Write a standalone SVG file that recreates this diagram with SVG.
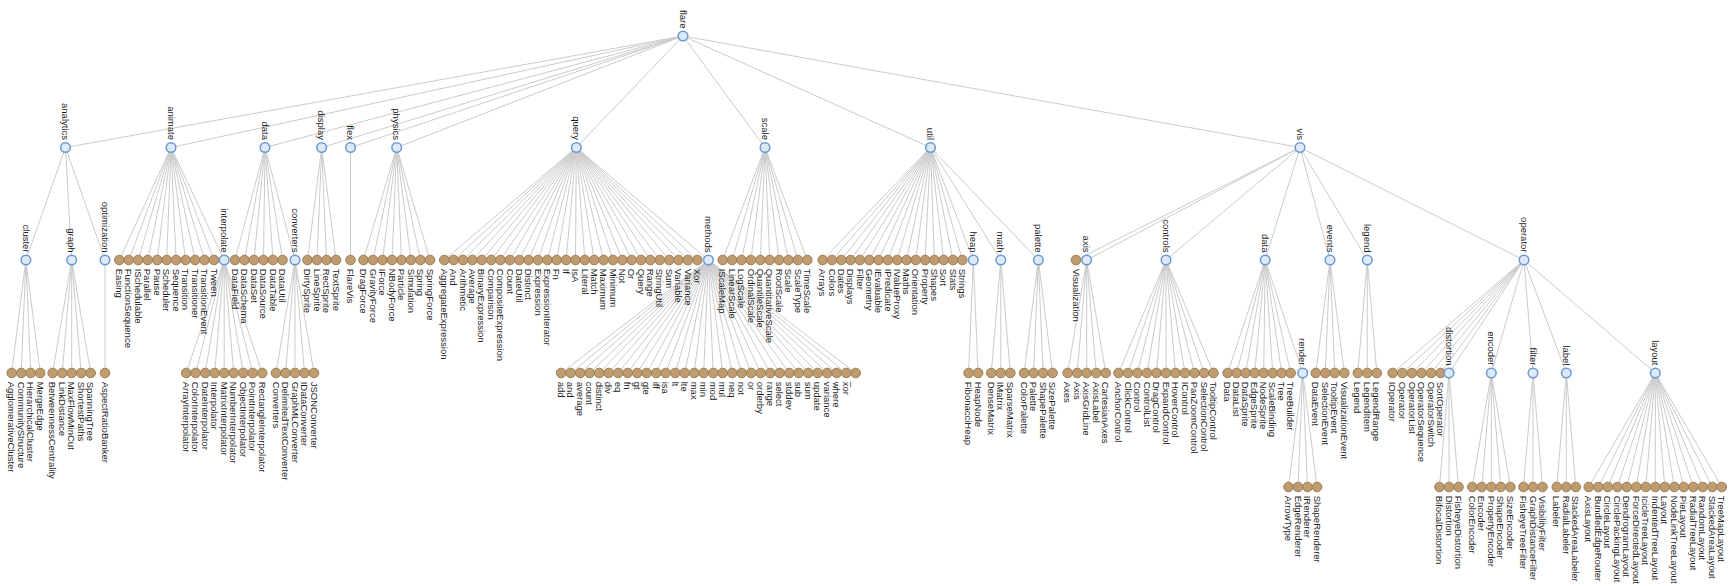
<svg xmlns="http://www.w3.org/2000/svg" width="1733" height="586" viewBox="0 0 1733 586">
<style>
.links line{stroke:#cbcbcb;stroke-width:1}
.leaf circle{fill:#bf9c70;stroke:#9f7f55;stroke-width:1}
.inner circle{fill:#dde9f7;stroke:#6a9ad2;stroke-width:1.5}
text{font-family:"Liberation Sans",Arial,sans-serif;font-size:9.5px;fill:#1e1e1e}
.inner text{text-anchor:end}
</style>
<rect width="1733" height="586" fill="#fff"/>
<g id="links" class="links">
<line x1="683" y1="36" x2="65.5" y2="147.5"/><line x1="683" y1="36" x2="171" y2="147.5"/><line x1="683" y1="36" x2="265" y2="147.5"/><line x1="683" y1="36" x2="321.7" y2="147.5"/><line x1="683" y1="36" x2="350.5" y2="147.5"/><line x1="683" y1="36" x2="396.7" y2="147.5"/><line x1="683" y1="36" x2="576.3" y2="147.5"/><line x1="683" y1="36" x2="765" y2="147.5"/><line x1="683" y1="36" x2="930.5" y2="147.5"/><line x1="683" y1="36" x2="1300" y2="147.5"/>
<line x1="65.5" y1="147.5" x2="25.9" y2="260"/><line x1="65.5" y1="147.5" x2="71.7" y2="260"/><line x1="65.5" y1="147.5" x2="105" y2="260"/>
<line x1="25.9" y1="260" x2="11.7" y2="373"/><line x1="25.9" y1="260" x2="21.2" y2="373"/><line x1="25.9" y1="260" x2="30.7" y2="373"/><line x1="25.9" y1="260" x2="40.2" y2="373"/>
<line x1="71.7" y1="260" x2="52.7" y2="373"/><line x1="71.7" y1="260" x2="62.2" y2="373"/><line x1="71.7" y1="260" x2="71.7" y2="373"/><line x1="71.7" y1="260" x2="81.2" y2="373"/><line x1="71.7" y1="260" x2="90.7" y2="373"/>
<line x1="105" y1="260" x2="105" y2="373"/>
<line x1="171" y1="147.5" x2="119.3" y2="260"/><line x1="171" y1="147.5" x2="128.8" y2="260"/><line x1="171" y1="147.5" x2="138.2" y2="260"/><line x1="171" y1="147.5" x2="147.7" y2="260"/><line x1="171" y1="147.5" x2="157.2" y2="260"/><line x1="171" y1="147.5" x2="166.7" y2="260"/><line x1="171" y1="147.5" x2="176.1" y2="260"/><line x1="171" y1="147.5" x2="185.6" y2="260"/><line x1="171" y1="147.5" x2="195.1" y2="260"/><line x1="171" y1="147.5" x2="204.5" y2="260"/><line x1="171" y1="147.5" x2="214" y2="260"/><line x1="171" y1="147.5" x2="224.2" y2="260"/>
<line x1="224.2" y1="260" x2="186.2" y2="373"/><line x1="224.2" y1="260" x2="195.7" y2="373"/><line x1="224.2" y1="260" x2="205.2" y2="373"/><line x1="224.2" y1="260" x2="214.7" y2="373"/><line x1="224.2" y1="260" x2="224.2" y2="373"/><line x1="224.2" y1="260" x2="233.7" y2="373"/><line x1="224.2" y1="260" x2="243.2" y2="373"/><line x1="224.2" y1="260" x2="252.7" y2="373"/><line x1="224.2" y1="260" x2="262.2" y2="373"/>
<line x1="265" y1="147.5" x2="235" y2="260"/><line x1="265" y1="147.5" x2="244.5" y2="260"/><line x1="265" y1="147.5" x2="254" y2="260"/><line x1="265" y1="147.5" x2="263.5" y2="260"/><line x1="265" y1="147.5" x2="273" y2="260"/><line x1="265" y1="147.5" x2="282.5" y2="260"/><line x1="265" y1="147.5" x2="295" y2="260"/>
<line x1="295" y1="260" x2="276" y2="373"/><line x1="295" y1="260" x2="285.5" y2="373"/><line x1="295" y1="260" x2="295" y2="373"/><line x1="295" y1="260" x2="304.5" y2="373"/><line x1="295" y1="260" x2="314" y2="373"/>
<line x1="321.7" y1="147.5" x2="307.5" y2="260"/><line x1="321.7" y1="147.5" x2="317" y2="260"/><line x1="321.7" y1="147.5" x2="326.5" y2="260"/><line x1="321.7" y1="147.5" x2="336" y2="260"/>
<line x1="350.5" y1="147.5" x2="350.5" y2="260"/>
<line x1="396.7" y1="147.5" x2="363.5" y2="260"/><line x1="396.7" y1="147.5" x2="373" y2="260"/><line x1="396.7" y1="147.5" x2="382.5" y2="260"/><line x1="396.7" y1="147.5" x2="392" y2="260"/><line x1="396.7" y1="147.5" x2="401.5" y2="260"/><line x1="396.7" y1="147.5" x2="411" y2="260"/><line x1="396.7" y1="147.5" x2="420.5" y2="260"/><line x1="396.7" y1="147.5" x2="430" y2="260"/>
<line x1="576.3" y1="147.5" x2="444.3" y2="260"/><line x1="576.3" y1="147.5" x2="453.7" y2="260"/><line x1="576.3" y1="147.5" x2="463" y2="260"/><line x1="576.3" y1="147.5" x2="472.4" y2="260"/><line x1="576.3" y1="147.5" x2="481.8" y2="260"/><line x1="576.3" y1="147.5" x2="491.2" y2="260"/><line x1="576.3" y1="147.5" x2="500.5" y2="260"/><line x1="576.3" y1="147.5" x2="509.9" y2="260"/><line x1="576.3" y1="147.5" x2="519.3" y2="260"/><line x1="576.3" y1="147.5" x2="528.6" y2="260"/><line x1="576.3" y1="147.5" x2="538" y2="260"/><line x1="576.3" y1="147.5" x2="547.4" y2="260"/><line x1="576.3" y1="147.5" x2="556.7" y2="260"/><line x1="576.3" y1="147.5" x2="566.1" y2="260"/><line x1="576.3" y1="147.5" x2="575.5" y2="260"/><line x1="576.3" y1="147.5" x2="584.9" y2="260"/><line x1="576.3" y1="147.5" x2="594.2" y2="260"/><line x1="576.3" y1="147.5" x2="603.6" y2="260"/><line x1="576.3" y1="147.5" x2="613" y2="260"/><line x1="576.3" y1="147.5" x2="622.3" y2="260"/><line x1="576.3" y1="147.5" x2="631.7" y2="260"/><line x1="576.3" y1="147.5" x2="641.1" y2="260"/><line x1="576.3" y1="147.5" x2="650.4" y2="260"/><line x1="576.3" y1="147.5" x2="659.8" y2="260"/><line x1="576.3" y1="147.5" x2="669.2" y2="260"/><line x1="576.3" y1="147.5" x2="678.6" y2="260"/><line x1="576.3" y1="147.5" x2="687.9" y2="260"/><line x1="576.3" y1="147.5" x2="697.3" y2="260"/><line x1="576.3" y1="147.5" x2="708.4" y2="260"/>
<line x1="708.4" y1="260" x2="561.2" y2="373"/><line x1="708.4" y1="260" x2="570.7" y2="373"/><line x1="708.4" y1="260" x2="580.2" y2="373"/><line x1="708.4" y1="260" x2="589.7" y2="373"/><line x1="708.4" y1="260" x2="599.2" y2="373"/><line x1="708.4" y1="260" x2="608.7" y2="373"/><line x1="708.4" y1="260" x2="618.2" y2="373"/><line x1="708.4" y1="260" x2="627.7" y2="373"/><line x1="708.4" y1="260" x2="637.2" y2="373"/><line x1="708.4" y1="260" x2="646.7" y2="373"/><line x1="708.4" y1="260" x2="656.2" y2="373"/><line x1="708.4" y1="260" x2="665.7" y2="373"/><line x1="708.4" y1="260" x2="675.2" y2="373"/><line x1="708.4" y1="260" x2="684.7" y2="373"/><line x1="708.4" y1="260" x2="694.2" y2="373"/><line x1="708.4" y1="260" x2="703.7" y2="373"/><line x1="708.4" y1="260" x2="713.2" y2="373"/><line x1="708.4" y1="260" x2="722.7" y2="373"/><line x1="708.4" y1="260" x2="732.2" y2="373"/><line x1="708.4" y1="260" x2="741.7" y2="373"/><line x1="708.4" y1="260" x2="751.2" y2="373"/><line x1="708.4" y1="260" x2="760.7" y2="373"/><line x1="708.4" y1="260" x2="770.2" y2="373"/><line x1="708.4" y1="260" x2="779.7" y2="373"/><line x1="708.4" y1="260" x2="789.2" y2="373"/><line x1="708.4" y1="260" x2="798.7" y2="373"/><line x1="708.4" y1="260" x2="808.2" y2="373"/><line x1="708.4" y1="260" x2="817.7" y2="373"/><line x1="708.4" y1="260" x2="827.2" y2="373"/><line x1="708.4" y1="260" x2="836.7" y2="373"/><line x1="708.4" y1="260" x2="846.2" y2="373"/><line x1="708.4" y1="260" x2="855.7" y2="373"/>
<line x1="765" y1="147.5" x2="722.7" y2="260"/><line x1="765" y1="147.5" x2="732.1" y2="260"/><line x1="765" y1="147.5" x2="741.5" y2="260"/><line x1="765" y1="147.5" x2="750.9" y2="260"/><line x1="765" y1="147.5" x2="760.3" y2="260"/><line x1="765" y1="147.5" x2="769.7" y2="260"/><line x1="765" y1="147.5" x2="779.1" y2="260"/><line x1="765" y1="147.5" x2="788.5" y2="260"/><line x1="765" y1="147.5" x2="797.9" y2="260"/><line x1="765" y1="147.5" x2="807.3" y2="260"/>
<line x1="930.5" y1="147.5" x2="822.7" y2="260"/><line x1="930.5" y1="147.5" x2="832" y2="260"/><line x1="930.5" y1="147.5" x2="841.3" y2="260"/><line x1="930.5" y1="147.5" x2="850.6" y2="260"/><line x1="930.5" y1="147.5" x2="859.9" y2="260"/><line x1="930.5" y1="147.5" x2="869.3" y2="260"/><line x1="930.5" y1="147.5" x2="878.6" y2="260"/><line x1="930.5" y1="147.5" x2="887.9" y2="260"/><line x1="930.5" y1="147.5" x2="897.2" y2="260"/><line x1="930.5" y1="147.5" x2="906.5" y2="260"/><line x1="930.5" y1="147.5" x2="915.8" y2="260"/><line x1="930.5" y1="147.5" x2="925.1" y2="260"/><line x1="930.5" y1="147.5" x2="934.4" y2="260"/><line x1="930.5" y1="147.5" x2="943.7" y2="260"/><line x1="930.5" y1="147.5" x2="953" y2="260"/><line x1="930.5" y1="147.5" x2="962.3" y2="260"/><line x1="930.5" y1="147.5" x2="973.3" y2="260"/><line x1="930.5" y1="147.5" x2="1000.8" y2="260"/><line x1="930.5" y1="147.5" x2="1038.3" y2="260"/>
<line x1="973.3" y1="260" x2="968.6" y2="373"/><line x1="973.3" y1="260" x2="978.1" y2="373"/>
<line x1="1000.8" y1="260" x2="991.3" y2="373"/><line x1="1000.8" y1="260" x2="1000.8" y2="373"/><line x1="1000.8" y1="260" x2="1010.3" y2="373"/>
<line x1="1038.3" y1="260" x2="1024.1" y2="373"/><line x1="1038.3" y1="260" x2="1033.6" y2="373"/><line x1="1038.3" y1="260" x2="1043.1" y2="373"/><line x1="1038.3" y1="260" x2="1052.6" y2="373"/>
<line x1="1300" y1="147.5" x2="1076" y2="260"/><line x1="1300" y1="147.5" x2="1086.7" y2="260"/><line x1="1300" y1="147.5" x2="1166" y2="260"/><line x1="1300" y1="147.5" x2="1265.2" y2="260"/><line x1="1300" y1="147.5" x2="1330" y2="260"/><line x1="1300" y1="147.5" x2="1367.3" y2="260"/><line x1="1300" y1="147.5" x2="1524" y2="260"/>
<line x1="1086.7" y1="260" x2="1067.7" y2="373"/><line x1="1086.7" y1="260" x2="1077.2" y2="373"/><line x1="1086.7" y1="260" x2="1086.7" y2="373"/><line x1="1086.7" y1="260" x2="1096.2" y2="373"/><line x1="1086.7" y1="260" x2="1105.7" y2="373"/>
<line x1="1166" y1="260" x2="1118.5" y2="373"/><line x1="1166" y1="260" x2="1128" y2="373"/><line x1="1166" y1="260" x2="1137.5" y2="373"/><line x1="1166" y1="260" x2="1147" y2="373"/><line x1="1166" y1="260" x2="1156.5" y2="373"/><line x1="1166" y1="260" x2="1166" y2="373"/><line x1="1166" y1="260" x2="1175.5" y2="373"/><line x1="1166" y1="260" x2="1185" y2="373"/><line x1="1166" y1="260" x2="1194.5" y2="373"/><line x1="1166" y1="260" x2="1204" y2="373"/><line x1="1166" y1="260" x2="1213.5" y2="373"/>
<line x1="1265.2" y1="260" x2="1227.7" y2="373"/><line x1="1265.2" y1="260" x2="1236.7" y2="373"/><line x1="1265.2" y1="260" x2="1245.7" y2="373"/><line x1="1265.2" y1="260" x2="1254.7" y2="373"/><line x1="1265.2" y1="260" x2="1263.7" y2="373"/><line x1="1265.2" y1="260" x2="1272.7" y2="373"/><line x1="1265.2" y1="260" x2="1281.7" y2="373"/><line x1="1265.2" y1="260" x2="1290.7" y2="373"/><line x1="1265.2" y1="260" x2="1302.7" y2="373"/>
<line x1="1302.7" y1="373" x2="1288.5" y2="487"/><line x1="1302.7" y1="373" x2="1298" y2="487"/><line x1="1302.7" y1="373" x2="1307.5" y2="487"/><line x1="1302.7" y1="373" x2="1317" y2="487"/>
<line x1="1330" y1="260" x2="1315.8" y2="373"/><line x1="1330" y1="260" x2="1325.3" y2="373"/><line x1="1330" y1="260" x2="1334.8" y2="373"/><line x1="1330" y1="260" x2="1344.3" y2="373"/>
<line x1="1367.3" y1="260" x2="1357.8" y2="373"/><line x1="1367.3" y1="260" x2="1367.3" y2="373"/><line x1="1367.3" y1="260" x2="1376.8" y2="373"/>
<line x1="1524" y1="260" x2="1392.7" y2="373"/><line x1="1524" y1="260" x2="1402.3" y2="373"/><line x1="1524" y1="260" x2="1411.9" y2="373"/><line x1="1524" y1="260" x2="1421.5" y2="373"/><line x1="1524" y1="260" x2="1431.1" y2="373"/><line x1="1524" y1="260" x2="1440.7" y2="373"/><line x1="1524" y1="260" x2="1449" y2="373"/><line x1="1524" y1="260" x2="1491.3" y2="373"/><line x1="1524" y1="260" x2="1533" y2="373"/><line x1="1524" y1="260" x2="1566.3" y2="373"/><line x1="1524" y1="260" x2="1655.3" y2="373"/>
<line x1="1449" y1="373" x2="1439.5" y2="487"/><line x1="1449" y1="373" x2="1449" y2="487"/><line x1="1449" y1="373" x2="1458.5" y2="487"/>
<line x1="1491.3" y1="373" x2="1472.3" y2="487"/><line x1="1491.3" y1="373" x2="1481.8" y2="487"/><line x1="1491.3" y1="373" x2="1491.3" y2="487"/><line x1="1491.3" y1="373" x2="1500.8" y2="487"/><line x1="1491.3" y1="373" x2="1510.3" y2="487"/>
<line x1="1533" y1="373" x2="1523.5" y2="487"/><line x1="1533" y1="373" x2="1533" y2="487"/><line x1="1533" y1="373" x2="1542.5" y2="487"/>
<line x1="1566.3" y1="373" x2="1556.8" y2="487"/><line x1="1566.3" y1="373" x2="1566.3" y2="487"/><line x1="1566.3" y1="373" x2="1575.8" y2="487"/>
<line x1="1655.3" y1="373" x2="1588.8" y2="487"/><line x1="1655.3" y1="373" x2="1598.3" y2="487"/><line x1="1655.3" y1="373" x2="1607.8" y2="487"/><line x1="1655.3" y1="373" x2="1617.3" y2="487"/><line x1="1655.3" y1="373" x2="1626.8" y2="487"/><line x1="1655.3" y1="373" x2="1636.3" y2="487"/><line x1="1655.3" y1="373" x2="1645.8" y2="487"/><line x1="1655.3" y1="373" x2="1655.3" y2="487"/><line x1="1655.3" y1="373" x2="1664.8" y2="487"/><line x1="1655.3" y1="373" x2="1674.3" y2="487"/><line x1="1655.3" y1="373" x2="1683.8" y2="487"/><line x1="1655.3" y1="373" x2="1693.3" y2="487"/><line x1="1655.3" y1="373" x2="1702.8" y2="487"/><line x1="1655.3" y1="373" x2="1712.3" y2="487"/><line x1="1655.3" y1="373" x2="1721.8" y2="487"/>
</g>
<g id="nodes">
<g id="n-flare" class="inner" transform="translate(683,36)"><circle r="4.8"/><text transform="rotate(90)" x="-7.5" dy=".35em">flare</text></g>
<g id="n-analytics" class="inner" transform="translate(65.5,147.5)"><circle r="4.8"/><text transform="rotate(90)" x="-7.5" dy=".35em">analytics</text></g>
<g id="n-animate" class="inner" transform="translate(171,147.5)"><circle r="4.8"/><text transform="rotate(90)" x="-7.5" dy=".35em">animate</text></g>
<g id="n-data" class="inner" transform="translate(265,147.5)"><circle r="4.8"/><text transform="rotate(90)" x="-7.5" dy=".35em">data</text></g>
<g id="n-display" class="inner" transform="translate(321.7,147.5)"><circle r="4.8"/><text transform="rotate(90)" x="-7.5" dy=".35em">display</text></g>
<g id="n-flex" class="inner" transform="translate(350.5,147.5)"><circle r="4.8"/><text transform="rotate(90)" x="-7.5" dy=".35em">flex</text></g>
<g id="n-physics" class="inner" transform="translate(396.7,147.5)"><circle r="4.8"/><text transform="rotate(90)" x="-7.5" dy=".35em">physics</text></g>
<g id="n-query" class="inner" transform="translate(576.3,147.5)"><circle r="4.8"/><text transform="rotate(90)" x="-7.5" dy=".35em">query</text></g>
<g id="n-scale" class="inner" transform="translate(765,147.5)"><circle r="4.8"/><text transform="rotate(90)" x="-7.5" dy=".35em">scale</text></g>
<g id="n-util" class="inner" transform="translate(930.5,147.5)"><circle r="4.8"/><text transform="rotate(90)" x="-7.5" dy=".35em">util</text></g>
<g id="n-vis" class="inner" transform="translate(1300,147.5)"><circle r="4.8"/><text transform="rotate(90)" x="-7.5" dy=".35em">vis</text></g>

<g id="n-cluster" class="inner" transform="translate(25.9,260)"><circle r="4.8"/><text transform="rotate(90)" x="-7.5" dy=".35em">cluster</text></g>
<g id="n-graph" class="inner" transform="translate(71.7,260)"><circle r="4.8"/><text transform="rotate(90)" x="-7.5" dy=".35em">graph</text></g>
<g id="n-optimization" class="inner" transform="translate(105,260)"><circle r="4.8"/><text transform="rotate(90)" x="-7.5" dy=".35em">optimization</text></g>
<g id="n-AgglomerativeCluster" class="leaf" transform="translate(11.7,373)"><circle r="4.8"/><text transform="rotate(90)" x="8.7" dy=".35em">AgglomerativeCluster</text></g>
<g id="n-CommunityStructure" class="leaf" transform="translate(21.2,373)"><circle r="4.8"/><text transform="rotate(90)" x="8.7" dy=".35em">CommunityStructure</text></g>
<g id="n-HierarchicalCluster" class="leaf" transform="translate(30.7,373)"><circle r="4.8"/><text transform="rotate(90)" x="8.7" dy=".35em">HierarchicalCluster</text></g>
<g id="n-MergeEdge" class="leaf" transform="translate(40.2,373)"><circle r="4.8"/><text transform="rotate(90)" x="8.7" dy=".35em">MergeEdge</text></g>
<g id="n-BetweennessCentrality" class="leaf" transform="translate(52.7,373)"><circle r="4.8"/><text transform="rotate(90)" x="8.7" dy=".35em">BetweennessCentrality</text></g>
<g id="n-LinkDistance" class="leaf" transform="translate(62.2,373)"><circle r="4.8"/><text transform="rotate(90)" x="8.7" dy=".35em">LinkDistance</text></g>
<g id="n-MaxFlowMinCut" class="leaf" transform="translate(71.7,373)"><circle r="4.8"/><text transform="rotate(90)" x="8.7" dy=".35em">MaxFlowMinCut</text></g>
<g id="n-ShortestPaths" class="leaf" transform="translate(81.2,373)"><circle r="4.8"/><text transform="rotate(90)" x="8.7" dy=".35em">ShortestPaths</text></g>
<g id="n-SpanningTree" class="leaf" transform="translate(90.7,373)"><circle r="4.8"/><text transform="rotate(90)" x="8.7" dy=".35em">SpanningTree</text></g>
<g id="n-AspectRatioBanker" class="leaf" transform="translate(105,373)"><circle r="4.8"/><text transform="rotate(90)" x="8.7" dy=".35em">AspectRatioBanker</text></g>

<g id="n-Easing" class="leaf" transform="translate(119.3,260)"><circle r="4.8"/><text transform="rotate(90)" x="8.7" dy=".35em">Easing</text></g>
<g id="n-FunctionSequence" class="leaf" transform="translate(128.8,260)"><circle r="4.8"/><text transform="rotate(90)" x="8.7" dy=".35em">FunctionSequence</text></g>
<g id="n-ISchedulable" class="leaf" transform="translate(138.2,260)"><circle r="4.8"/><text transform="rotate(90)" x="8.7" dy=".35em">ISchedulable</text></g>
<g id="n-Parallel" class="leaf" transform="translate(147.7,260)"><circle r="4.8"/><text transform="rotate(90)" x="8.7" dy=".35em">Parallel</text></g>
<g id="n-Pause" class="leaf" transform="translate(157.2,260)"><circle r="4.8"/><text transform="rotate(90)" x="8.7" dy=".35em">Pause</text></g>
<g id="n-Scheduler" class="leaf" transform="translate(166.7,260)"><circle r="4.8"/><text transform="rotate(90)" x="8.7" dy=".35em">Scheduler</text></g>
<g id="n-Sequence" class="leaf" transform="translate(176.1,260)"><circle r="4.8"/><text transform="rotate(90)" x="8.7" dy=".35em">Sequence</text></g>
<g id="n-Transition" class="leaf" transform="translate(185.6,260)"><circle r="4.8"/><text transform="rotate(90)" x="8.7" dy=".35em">Transition</text></g>
<g id="n-Transitioner" class="leaf" transform="translate(195.1,260)"><circle r="4.8"/><text transform="rotate(90)" x="8.7" dy=".35em">Transitioner</text></g>
<g id="n-TransitionEvent" class="leaf" transform="translate(204.5,260)"><circle r="4.8"/><text transform="rotate(90)" x="8.7" dy=".35em">TransitionEvent</text></g>
<g id="n-Tween" class="leaf" transform="translate(214,260)"><circle r="4.8"/><text transform="rotate(90)" x="8.7" dy=".35em">Tween</text></g>
<g id="n-interpolate" class="inner" transform="translate(224.2,260)"><circle r="4.8"/><text transform="rotate(90)" x="-7.5" dy=".35em">interpolate</text></g>
<g id="n-ArrayInterpolator" class="leaf" transform="translate(186.2,373)"><circle r="4.8"/><text transform="rotate(90)" x="8.7" dy=".35em">ArrayInterpolator</text></g>
<g id="n-ColorInterpolator" class="leaf" transform="translate(195.7,373)"><circle r="4.8"/><text transform="rotate(90)" x="8.7" dy=".35em">ColorInterpolator</text></g>
<g id="n-DateInterpolator" class="leaf" transform="translate(205.2,373)"><circle r="4.8"/><text transform="rotate(90)" x="8.7" dy=".35em">DateInterpolator</text></g>
<g id="n-Interpolator" class="leaf" transform="translate(214.7,373)"><circle r="4.8"/><text transform="rotate(90)" x="8.7" dy=".35em">Interpolator</text></g>
<g id="n-MatrixInterpolator" class="leaf" transform="translate(224.2,373)"><circle r="4.8"/><text transform="rotate(90)" x="8.7" dy=".35em">MatrixInterpolator</text></g>
<g id="n-NumberInterpolator" class="leaf" transform="translate(233.7,373)"><circle r="4.8"/><text transform="rotate(90)" x="8.7" dy=".35em">NumberInterpolator</text></g>
<g id="n-ObjectInterpolator" class="leaf" transform="translate(243.2,373)"><circle r="4.8"/><text transform="rotate(90)" x="8.7" dy=".35em">ObjectInterpolator</text></g>
<g id="n-PointInterpolator" class="leaf" transform="translate(252.7,373)"><circle r="4.8"/><text transform="rotate(90)" x="8.7" dy=".35em">PointInterpolator</text></g>
<g id="n-RectangleInterpolator" class="leaf" transform="translate(262.2,373)"><circle r="4.8"/><text transform="rotate(90)" x="8.7" dy=".35em">RectangleInterpolator</text></g>

<g id="n-DataField" class="leaf" transform="translate(235,260)"><circle r="4.8"/><text transform="rotate(90)" x="8.7" dy=".35em">DataField</text></g>
<g id="n-DataSchema" class="leaf" transform="translate(244.5,260)"><circle r="4.8"/><text transform="rotate(90)" x="8.7" dy=".35em">DataSchema</text></g>
<g id="n-DataSet" class="leaf" transform="translate(254,260)"><circle r="4.8"/><text transform="rotate(90)" x="8.7" dy=".35em">DataSet</text></g>
<g id="n-DataSource" class="leaf" transform="translate(263.5,260)"><circle r="4.8"/><text transform="rotate(90)" x="8.7" dy=".35em">DataSource</text></g>
<g id="n-DataTable" class="leaf" transform="translate(273,260)"><circle r="4.8"/><text transform="rotate(90)" x="8.7" dy=".35em">DataTable</text></g>
<g id="n-DataUtil" class="leaf" transform="translate(282.5,260)"><circle r="4.8"/><text transform="rotate(90)" x="8.7" dy=".35em">DataUtil</text></g>
<g id="n-converters" class="inner" transform="translate(295,260)"><circle r="4.8"/><text transform="rotate(90)" x="-7.5" dy=".35em">converters</text></g>
<g id="n-Converters" class="leaf" transform="translate(276,373)"><circle r="4.8"/><text transform="rotate(90)" x="8.7" dy=".35em">Converters</text></g>
<g id="n-DelimitedTextConverter" class="leaf" transform="translate(285.5,373)"><circle r="4.8"/><text transform="rotate(90)" x="8.7" dy=".35em">DelimitedTextConverter</text></g>
<g id="n-GraphMLConverter" class="leaf" transform="translate(295,373)"><circle r="4.8"/><text transform="rotate(90)" x="8.7" dy=".35em">GraphMLConverter</text></g>
<g id="n-IDataConverter" class="leaf" transform="translate(304.5,373)"><circle r="4.8"/><text transform="rotate(90)" x="8.7" dy=".35em">IDataConverter</text></g>
<g id="n-JSONConverter" class="leaf" transform="translate(314,373)"><circle r="4.8"/><text transform="rotate(90)" x="8.7" dy=".35em">JSONConverter</text></g>

<g id="n-DirtySprite" class="leaf" transform="translate(307.5,260)"><circle r="4.8"/><text transform="rotate(90)" x="8.7" dy=".35em">DirtySprite</text></g>
<g id="n-LineSprite" class="leaf" transform="translate(317,260)"><circle r="4.8"/><text transform="rotate(90)" x="8.7" dy=".35em">LineSprite</text></g>
<g id="n-RectSprite" class="leaf" transform="translate(326.5,260)"><circle r="4.8"/><text transform="rotate(90)" x="8.7" dy=".35em">RectSprite</text></g>
<g id="n-TextSprite" class="leaf" transform="translate(336,260)"><circle r="4.8"/><text transform="rotate(90)" x="8.7" dy=".35em">TextSprite</text></g>
<g id="n-FlareVis" class="leaf" transform="translate(350.5,260)"><circle r="4.8"/><text transform="rotate(90)" x="8.7" dy=".35em">FlareVis</text></g>

<g id="n-DragForce" class="leaf" transform="translate(363.5,260)"><circle r="4.8"/><text transform="rotate(90)" x="8.7" dy=".35em">DragForce</text></g>
<g id="n-GravityForce" class="leaf" transform="translate(373,260)"><circle r="4.8"/><text transform="rotate(90)" x="8.7" dy=".35em">GravityForce</text></g>
<g id="n-IForce" class="leaf" transform="translate(382.5,260)"><circle r="4.8"/><text transform="rotate(90)" x="8.7" dy=".35em">IForce</text></g>
<g id="n-NBodyForce" class="leaf" transform="translate(392,260)"><circle r="4.8"/><text transform="rotate(90)" x="8.7" dy=".35em">NBodyForce</text></g>
<g id="n-Particle" class="leaf" transform="translate(401.5,260)"><circle r="4.8"/><text transform="rotate(90)" x="8.7" dy=".35em">Particle</text></g>
<g id="n-Simulation" class="leaf" transform="translate(411,260)"><circle r="4.8"/><text transform="rotate(90)" x="8.7" dy=".35em">Simulation</text></g>
<g id="n-Spring" class="leaf" transform="translate(420.5,260)"><circle r="4.8"/><text transform="rotate(90)" x="8.7" dy=".35em">Spring</text></g>
<g id="n-SpringForce" class="leaf" transform="translate(430,260)"><circle r="4.8"/><text transform="rotate(90)" x="8.7" dy=".35em">SpringForce</text></g>

<g id="n-AggregateExpression" class="leaf" transform="translate(444.3,260)"><circle r="4.8"/><text transform="rotate(90)" x="8.7" dy=".35em">AggregateExpression</text></g>
<g id="n-And" class="leaf" transform="translate(453.7,260)"><circle r="4.8"/><text transform="rotate(90)" x="8.7" dy=".35em">And</text></g>
<g id="n-Arithmetic" class="leaf" transform="translate(463,260)"><circle r="4.8"/><text transform="rotate(90)" x="8.7" dy=".35em">Arithmetic</text></g>
<g id="n-Average" class="leaf" transform="translate(472.4,260)"><circle r="4.8"/><text transform="rotate(90)" x="8.7" dy=".35em">Average</text></g>
<g id="n-BinaryExpression" class="leaf" transform="translate(481.8,260)"><circle r="4.8"/><text transform="rotate(90)" x="8.7" dy=".35em">BinaryExpression</text></g>
<g id="n-Comparison" class="leaf" transform="translate(491.2,260)"><circle r="4.8"/><text transform="rotate(90)" x="8.7" dy=".35em">Comparison</text></g>
<g id="n-CompositeExpression" class="leaf" transform="translate(500.5,260)"><circle r="4.8"/><text transform="rotate(90)" x="8.7" dy=".35em">CompositeExpression</text></g>
<g id="n-Count" class="leaf" transform="translate(509.9,260)"><circle r="4.8"/><text transform="rotate(90)" x="8.7" dy=".35em">Count</text></g>
<g id="n-DateUtil" class="leaf" transform="translate(519.3,260)"><circle r="4.8"/><text transform="rotate(90)" x="8.7" dy=".35em">DateUtil</text></g>
<g id="n-Distinct" class="leaf" transform="translate(528.6,260)"><circle r="4.8"/><text transform="rotate(90)" x="8.7" dy=".35em">Distinct</text></g>
<g id="n-Expression" class="leaf" transform="translate(538,260)"><circle r="4.8"/><text transform="rotate(90)" x="8.7" dy=".35em">Expression</text></g>
<g id="n-ExpressionIterator" class="leaf" transform="translate(547.4,260)"><circle r="4.8"/><text transform="rotate(90)" x="8.7" dy=".35em">ExpressionIterator</text></g>
<g id="n-Fn" class="leaf" transform="translate(556.7,260)"><circle r="4.8"/><text transform="rotate(90)" x="8.7" dy=".35em">Fn</text></g>
<g id="n-If" class="leaf" transform="translate(566.1,260)"><circle r="4.8"/><text transform="rotate(90)" x="8.7" dy=".35em">If</text></g>
<g id="n-IsA" class="leaf" transform="translate(575.5,260)"><circle r="4.8"/><text transform="rotate(90)" x="8.7" dy=".35em">IsA</text></g>
<g id="n-Literal" class="leaf" transform="translate(584.9,260)"><circle r="4.8"/><text transform="rotate(90)" x="8.7" dy=".35em">Literal</text></g>
<g id="n-Match" class="leaf" transform="translate(594.2,260)"><circle r="4.8"/><text transform="rotate(90)" x="8.7" dy=".35em">Match</text></g>
<g id="n-Maximum" class="leaf" transform="translate(603.6,260)"><circle r="4.8"/><text transform="rotate(90)" x="8.7" dy=".35em">Maximum</text></g>
<g id="n-Minimum" class="leaf" transform="translate(613,260)"><circle r="4.8"/><text transform="rotate(90)" x="8.7" dy=".35em">Minimum</text></g>
<g id="n-Not" class="leaf" transform="translate(622.3,260)"><circle r="4.8"/><text transform="rotate(90)" x="8.7" dy=".35em">Not</text></g>
<g id="n-Or" class="leaf" transform="translate(631.7,260)"><circle r="4.8"/><text transform="rotate(90)" x="8.7" dy=".35em">Or</text></g>
<g id="n-Query" class="leaf" transform="translate(641.1,260)"><circle r="4.8"/><text transform="rotate(90)" x="8.7" dy=".35em">Query</text></g>
<g id="n-Range" class="leaf" transform="translate(650.4,260)"><circle r="4.8"/><text transform="rotate(90)" x="8.7" dy=".35em">Range</text></g>
<g id="n-StringUtil" class="leaf" transform="translate(659.8,260)"><circle r="4.8"/><text transform="rotate(90)" x="8.7" dy=".35em">StringUtil</text></g>
<g id="n-Sum" class="leaf" transform="translate(669.2,260)"><circle r="4.8"/><text transform="rotate(90)" x="8.7" dy=".35em">Sum</text></g>
<g id="n-Variable" class="leaf" transform="translate(678.6,260)"><circle r="4.8"/><text transform="rotate(90)" x="8.7" dy=".35em">Variable</text></g>
<g id="n-Variance" class="leaf" transform="translate(687.9,260)"><circle r="4.8"/><text transform="rotate(90)" x="8.7" dy=".35em">Variance</text></g>
<g id="n-Xor" class="leaf" transform="translate(697.3,260)"><circle r="4.8"/><text transform="rotate(90)" x="8.7" dy=".35em">Xor</text></g>
<g id="n-methods" class="inner" transform="translate(708.4,260)"><circle r="4.8"/><text transform="rotate(90)" x="-7.5" dy=".35em">methods</text></g>
<g id="n-m-add" class="leaf" transform="translate(561.2,373)"><circle r="4.8"/><text transform="rotate(90)" x="8.7" dy=".35em">add</text></g>
<g id="n-m-and" class="leaf" transform="translate(570.7,373)"><circle r="4.8"/><text transform="rotate(90)" x="8.7" dy=".35em">and</text></g>
<g id="n-m-average" class="leaf" transform="translate(580.2,373)"><circle r="4.8"/><text transform="rotate(90)" x="8.7" dy=".35em">average</text></g>
<g id="n-m-count" class="leaf" transform="translate(589.7,373)"><circle r="4.8"/><text transform="rotate(90)" x="8.7" dy=".35em">count</text></g>
<g id="n-m-distinct" class="leaf" transform="translate(599.2,373)"><circle r="4.8"/><text transform="rotate(90)" x="8.7" dy=".35em">distinct</text></g>
<g id="n-m-div" class="leaf" transform="translate(608.7,373)"><circle r="4.8"/><text transform="rotate(90)" x="8.7" dy=".35em">div</text></g>
<g id="n-m-eq" class="leaf" transform="translate(618.2,373)"><circle r="4.8"/><text transform="rotate(90)" x="8.7" dy=".35em">eq</text></g>
<g id="n-m-fn" class="leaf" transform="translate(627.7,373)"><circle r="4.8"/><text transform="rotate(90)" x="8.7" dy=".35em">fn</text></g>
<g id="n-m-gt" class="leaf" transform="translate(637.2,373)"><circle r="4.8"/><text transform="rotate(90)" x="8.7" dy=".35em">gt</text></g>
<g id="n-m-gte" class="leaf" transform="translate(646.7,373)"><circle r="4.8"/><text transform="rotate(90)" x="8.7" dy=".35em">gte</text></g>
<g id="n-m-iff" class="leaf" transform="translate(656.2,373)"><circle r="4.8"/><text transform="rotate(90)" x="8.7" dy=".35em">iff</text></g>
<g id="n-m-isa" class="leaf" transform="translate(665.7,373)"><circle r="4.8"/><text transform="rotate(90)" x="8.7" dy=".35em">isa</text></g>
<g id="n-m-lt" class="leaf" transform="translate(675.2,373)"><circle r="4.8"/><text transform="rotate(90)" x="8.7" dy=".35em">lt</text></g>
<g id="n-m-lte" class="leaf" transform="translate(684.7,373)"><circle r="4.8"/><text transform="rotate(90)" x="8.7" dy=".35em">lte</text></g>
<g id="n-m-max" class="leaf" transform="translate(694.2,373)"><circle r="4.8"/><text transform="rotate(90)" x="8.7" dy=".35em">max</text></g>
<g id="n-m-min" class="leaf" transform="translate(703.7,373)"><circle r="4.8"/><text transform="rotate(90)" x="8.7" dy=".35em">min</text></g>
<g id="n-m-mod" class="leaf" transform="translate(713.2,373)"><circle r="4.8"/><text transform="rotate(90)" x="8.7" dy=".35em">mod</text></g>
<g id="n-m-mul" class="leaf" transform="translate(722.7,373)"><circle r="4.8"/><text transform="rotate(90)" x="8.7" dy=".35em">mul</text></g>
<g id="n-m-neq" class="leaf" transform="translate(732.2,373)"><circle r="4.8"/><text transform="rotate(90)" x="8.7" dy=".35em">neq</text></g>
<g id="n-m-not" class="leaf" transform="translate(741.7,373)"><circle r="4.8"/><text transform="rotate(90)" x="8.7" dy=".35em">not</text></g>
<g id="n-m-or" class="leaf" transform="translate(751.2,373)"><circle r="4.8"/><text transform="rotate(90)" x="8.7" dy=".35em">or</text></g>
<g id="n-m-orderby" class="leaf" transform="translate(760.7,373)"><circle r="4.8"/><text transform="rotate(90)" x="8.7" dy=".35em">orderby</text></g>
<g id="n-m-range" class="leaf" transform="translate(770.2,373)"><circle r="4.8"/><text transform="rotate(90)" x="8.7" dy=".35em">range</text></g>
<g id="n-m-select" class="leaf" transform="translate(779.7,373)"><circle r="4.8"/><text transform="rotate(90)" x="8.7" dy=".35em">select</text></g>
<g id="n-m-stddev" class="leaf" transform="translate(789.2,373)"><circle r="4.8"/><text transform="rotate(90)" x="8.7" dy=".35em">stddev</text></g>
<g id="n-m-sub" class="leaf" transform="translate(798.7,373)"><circle r="4.8"/><text transform="rotate(90)" x="8.7" dy=".35em">sub</text></g>
<g id="n-m-sum" class="leaf" transform="translate(808.2,373)"><circle r="4.8"/><text transform="rotate(90)" x="8.7" dy=".35em">sum</text></g>
<g id="n-m-update" class="leaf" transform="translate(817.7,373)"><circle r="4.8"/><text transform="rotate(90)" x="8.7" dy=".35em">update</text></g>
<g id="n-m-variance" class="leaf" transform="translate(827.2,373)"><circle r="4.8"/><text transform="rotate(90)" x="8.7" dy=".35em">variance</text></g>
<g id="n-m-where" class="leaf" transform="translate(836.7,373)"><circle r="4.8"/><text transform="rotate(90)" x="8.7" dy=".35em">where</text></g>
<g id="n-m-xor" class="leaf" transform="translate(846.2,373)"><circle r="4.8"/><text transform="rotate(90)" x="8.7" dy=".35em">xor</text></g>
<g id="n-m-_" class="leaf" transform="translate(855.7,373)"><circle r="4.8"/><text transform="rotate(90)" x="8.7" dy=".35em">_</text></g>

<g id="n-IScaleMap" class="leaf" transform="translate(722.7,260)"><circle r="4.8"/><text transform="rotate(90)" x="8.7" dy=".35em">IScaleMap</text></g>
<g id="n-LinearScale" class="leaf" transform="translate(732.1,260)"><circle r="4.8"/><text transform="rotate(90)" x="8.7" dy=".35em">LinearScale</text></g>
<g id="n-LogScale" class="leaf" transform="translate(741.5,260)"><circle r="4.8"/><text transform="rotate(90)" x="8.7" dy=".35em">LogScale</text></g>
<g id="n-OrdinalScale" class="leaf" transform="translate(750.9,260)"><circle r="4.8"/><text transform="rotate(90)" x="8.7" dy=".35em">OrdinalScale</text></g>
<g id="n-QuantileScale" class="leaf" transform="translate(760.3,260)"><circle r="4.8"/><text transform="rotate(90)" x="8.7" dy=".35em">QuantileScale</text></g>
<g id="n-QuantitativeScale" class="leaf" transform="translate(769.7,260)"><circle r="4.8"/><text transform="rotate(90)" x="8.7" dy=".35em">QuantitativeScale</text></g>
<g id="n-RootScale" class="leaf" transform="translate(779.1,260)"><circle r="4.8"/><text transform="rotate(90)" x="8.7" dy=".35em">RootScale</text></g>
<g id="n-Scale" class="leaf" transform="translate(788.5,260)"><circle r="4.8"/><text transform="rotate(90)" x="8.7" dy=".35em">Scale</text></g>
<g id="n-ScaleType" class="leaf" transform="translate(797.9,260)"><circle r="4.8"/><text transform="rotate(90)" x="8.7" dy=".35em">ScaleType</text></g>
<g id="n-TimeScale" class="leaf" transform="translate(807.3,260)"><circle r="4.8"/><text transform="rotate(90)" x="8.7" dy=".35em">TimeScale</text></g>

<g id="n-Arrays" class="leaf" transform="translate(822.7,260)"><circle r="4.8"/><text transform="rotate(90)" x="8.7" dy=".35em">Arrays</text></g>
<g id="n-Colors" class="leaf" transform="translate(832,260)"><circle r="4.8"/><text transform="rotate(90)" x="8.7" dy=".35em">Colors</text></g>
<g id="n-Dates" class="leaf" transform="translate(841.3,260)"><circle r="4.8"/><text transform="rotate(90)" x="8.7" dy=".35em">Dates</text></g>
<g id="n-Displays" class="leaf" transform="translate(850.6,260)"><circle r="4.8"/><text transform="rotate(90)" x="8.7" dy=".35em">Displays</text></g>
<g id="n-Filter" class="leaf" transform="translate(859.9,260)"><circle r="4.8"/><text transform="rotate(90)" x="8.7" dy=".35em">Filter</text></g>
<g id="n-Geometry" class="leaf" transform="translate(869.3,260)"><circle r="4.8"/><text transform="rotate(90)" x="8.7" dy=".35em">Geometry</text></g>
<g id="n-IEvaluable" class="leaf" transform="translate(878.6,260)"><circle r="4.8"/><text transform="rotate(90)" x="8.7" dy=".35em">IEvaluable</text></g>
<g id="n-IPredicate" class="leaf" transform="translate(887.9,260)"><circle r="4.8"/><text transform="rotate(90)" x="8.7" dy=".35em">IPredicate</text></g>
<g id="n-IValueProxy" class="leaf" transform="translate(897.2,260)"><circle r="4.8"/><text transform="rotate(90)" x="8.7" dy=".35em">IValueProxy</text></g>
<g id="n-Maths" class="leaf" transform="translate(906.5,260)"><circle r="4.8"/><text transform="rotate(90)" x="8.7" dy=".35em">Maths</text></g>
<g id="n-Orientation" class="leaf" transform="translate(915.8,260)"><circle r="4.8"/><text transform="rotate(90)" x="8.7" dy=".35em">Orientation</text></g>
<g id="n-Property" class="leaf" transform="translate(925.1,260)"><circle r="4.8"/><text transform="rotate(90)" x="8.7" dy=".35em">Property</text></g>
<g id="n-Shapes" class="leaf" transform="translate(934.4,260)"><circle r="4.8"/><text transform="rotate(90)" x="8.7" dy=".35em">Shapes</text></g>
<g id="n-Sort" class="leaf" transform="translate(943.7,260)"><circle r="4.8"/><text transform="rotate(90)" x="8.7" dy=".35em">Sort</text></g>
<g id="n-Stats" class="leaf" transform="translate(953,260)"><circle r="4.8"/><text transform="rotate(90)" x="8.7" dy=".35em">Stats</text></g>
<g id="n-Strings" class="leaf" transform="translate(962.3,260)"><circle r="4.8"/><text transform="rotate(90)" x="8.7" dy=".35em">Strings</text></g>
<g id="n-heap" class="inner" transform="translate(973.3,260)"><circle r="4.8"/><text transform="rotate(90)" x="-7.5" dy=".35em">heap</text></g>
<g id="n-math" class="inner" transform="translate(1000.8,260)"><circle r="4.8"/><text transform="rotate(90)" x="-7.5" dy=".35em">math</text></g>
<g id="n-palette" class="inner" transform="translate(1038.3,260)"><circle r="4.8"/><text transform="rotate(90)" x="-7.5" dy=".35em">palette</text></g>
<g id="n-FibonacciHeap" class="leaf" transform="translate(968.6,373)"><circle r="4.8"/><text transform="rotate(90)" x="8.7" dy=".35em">FibonacciHeap</text></g>
<g id="n-HeapNode" class="leaf" transform="translate(978.1,373)"><circle r="4.8"/><text transform="rotate(90)" x="8.7" dy=".35em">HeapNode</text></g>
<g id="n-DenseMatrix" class="leaf" transform="translate(991.3,373)"><circle r="4.8"/><text transform="rotate(90)" x="8.7" dy=".35em">DenseMatrix</text></g>
<g id="n-IMatrix" class="leaf" transform="translate(1000.8,373)"><circle r="4.8"/><text transform="rotate(90)" x="8.7" dy=".35em">IMatrix</text></g>
<g id="n-SparseMatrix" class="leaf" transform="translate(1010.3,373)"><circle r="4.8"/><text transform="rotate(90)" x="8.7" dy=".35em">SparseMatrix</text></g>
<g id="n-ColorPalette" class="leaf" transform="translate(1024.1,373)"><circle r="4.8"/><text transform="rotate(90)" x="8.7" dy=".35em">ColorPalette</text></g>
<g id="n-Palette" class="leaf" transform="translate(1033.6,373)"><circle r="4.8"/><text transform="rotate(90)" x="8.7" dy=".35em">Palette</text></g>
<g id="n-ShapePalette" class="leaf" transform="translate(1043.1,373)"><circle r="4.8"/><text transform="rotate(90)" x="8.7" dy=".35em">ShapePalette</text></g>
<g id="n-SizePalette" class="leaf" transform="translate(1052.6,373)"><circle r="4.8"/><text transform="rotate(90)" x="8.7" dy=".35em">SizePalette</text></g>

<g id="n-Visualization" class="leaf" transform="translate(1076,260)"><circle r="4.8"/><text transform="rotate(90)" x="8.7" dy=".35em">Visualization</text></g>
<g id="n-axis" class="inner" transform="translate(1086.7,260)"><circle r="4.8"/><text transform="rotate(90)" x="-7.5" dy=".35em">axis</text></g>
<g id="n-controls" class="inner" transform="translate(1166,260)"><circle r="4.8"/><text transform="rotate(90)" x="-7.5" dy=".35em">controls</text></g>
<g id="n-vis-data" class="inner" transform="translate(1265.2,260)"><circle r="4.8"/><text transform="rotate(90)" x="-7.5" dy=".35em">data</text></g>
<g id="n-events" class="inner" transform="translate(1330,260)"><circle r="4.8"/><text transform="rotate(90)" x="-7.5" dy=".35em">events</text></g>
<g id="n-legend" class="inner" transform="translate(1367.3,260)"><circle r="4.8"/><text transform="rotate(90)" x="-7.5" dy=".35em">legend</text></g>
<g id="n-operator" class="inner" transform="translate(1524,260)"><circle r="4.8"/><text transform="rotate(90)" x="-7.5" dy=".35em">operator</text></g>

<g id="n-Axes" class="leaf" transform="translate(1067.7,373)"><circle r="4.8"/><text transform="rotate(90)" x="8.7" dy=".35em">Axes</text></g>
<g id="n-Axis" class="leaf" transform="translate(1077.2,373)"><circle r="4.8"/><text transform="rotate(90)" x="8.7" dy=".35em">Axis</text></g>
<g id="n-AxisGridLine" class="leaf" transform="translate(1086.7,373)"><circle r="4.8"/><text transform="rotate(90)" x="8.7" dy=".35em">AxisGridLine</text></g>
<g id="n-AxisLabel" class="leaf" transform="translate(1096.2,373)"><circle r="4.8"/><text transform="rotate(90)" x="8.7" dy=".35em">AxisLabel</text></g>
<g id="n-CartesianAxes" class="leaf" transform="translate(1105.7,373)"><circle r="4.8"/><text transform="rotate(90)" x="8.7" dy=".35em">CartesianAxes</text></g>

<g id="n-AnchorControl" class="leaf" transform="translate(1118.5,373)"><circle r="4.8"/><text transform="rotate(90)" x="8.7" dy=".35em">AnchorControl</text></g>
<g id="n-ClickControl" class="leaf" transform="translate(1128,373)"><circle r="4.8"/><text transform="rotate(90)" x="8.7" dy=".35em">ClickControl</text></g>
<g id="n-Control" class="leaf" transform="translate(1137.5,373)"><circle r="4.8"/><text transform="rotate(90)" x="8.7" dy=".35em">Control</text></g>
<g id="n-ControlList" class="leaf" transform="translate(1147,373)"><circle r="4.8"/><text transform="rotate(90)" x="8.7" dy=".35em">ControlList</text></g>
<g id="n-DragControl" class="leaf" transform="translate(1156.5,373)"><circle r="4.8"/><text transform="rotate(90)" x="8.7" dy=".35em">DragControl</text></g>
<g id="n-ExpandControl" class="leaf" transform="translate(1166,373)"><circle r="4.8"/><text transform="rotate(90)" x="8.7" dy=".35em">ExpandControl</text></g>
<g id="n-HoverControl" class="leaf" transform="translate(1175.5,373)"><circle r="4.8"/><text transform="rotate(90)" x="8.7" dy=".35em">HoverControl</text></g>
<g id="n-IControl" class="leaf" transform="translate(1185,373)"><circle r="4.8"/><text transform="rotate(90)" x="8.7" dy=".35em">IControl</text></g>
<g id="n-PanZoomControl" class="leaf" transform="translate(1194.5,373)"><circle r="4.8"/><text transform="rotate(90)" x="8.7" dy=".35em">PanZoomControl</text></g>
<g id="n-SelectionControl" class="leaf" transform="translate(1204,373)"><circle r="4.8"/><text transform="rotate(90)" x="8.7" dy=".35em">SelectionControl</text></g>
<g id="n-TooltipControl" class="leaf" transform="translate(1213.5,373)"><circle r="4.8"/><text transform="rotate(90)" x="8.7" dy=".35em">TooltipControl</text></g>

<g id="n-Data" class="leaf" transform="translate(1227.7,373)"><circle r="4.8"/><text transform="rotate(90)" x="8.7" dy=".35em">Data</text></g>
<g id="n-DataList" class="leaf" transform="translate(1236.7,373)"><circle r="4.8"/><text transform="rotate(90)" x="8.7" dy=".35em">DataList</text></g>
<g id="n-DataSprite" class="leaf" transform="translate(1245.7,373)"><circle r="4.8"/><text transform="rotate(90)" x="8.7" dy=".35em">DataSprite</text></g>
<g id="n-EdgeSprite" class="leaf" transform="translate(1254.7,373)"><circle r="4.8"/><text transform="rotate(90)" x="8.7" dy=".35em">EdgeSprite</text></g>
<g id="n-NodeSprite" class="leaf" transform="translate(1263.7,373)"><circle r="4.8"/><text transform="rotate(90)" x="8.7" dy=".35em">NodeSprite</text></g>
<g id="n-ScaleBinding" class="leaf" transform="translate(1272.7,373)"><circle r="4.8"/><text transform="rotate(90)" x="8.7" dy=".35em">ScaleBinding</text></g>
<g id="n-Tree" class="leaf" transform="translate(1281.7,373)"><circle r="4.8"/><text transform="rotate(90)" x="8.7" dy=".35em">Tree</text></g>
<g id="n-TreeBuilder" class="leaf" transform="translate(1290.7,373)"><circle r="4.8"/><text transform="rotate(90)" x="8.7" dy=".35em">TreeBuilder</text></g>
<g id="n-render" class="inner" transform="translate(1302.7,373)"><circle r="4.8"/><text transform="rotate(90)" x="-7.5" dy=".35em">render</text></g>
<g id="n-ArrowType" class="leaf" transform="translate(1288.5,487)"><circle r="4.8"/><text transform="rotate(90)" x="8.7" dy=".35em">ArrowType</text></g>
<g id="n-EdgeRenderer" class="leaf" transform="translate(1298,487)"><circle r="4.8"/><text transform="rotate(90)" x="8.7" dy=".35em">EdgeRenderer</text></g>
<g id="n-IRenderer" class="leaf" transform="translate(1307.5,487)"><circle r="4.8"/><text transform="rotate(90)" x="8.7" dy=".35em">IRenderer</text></g>
<g id="n-ShapeRenderer" class="leaf" transform="translate(1317,487)"><circle r="4.8"/><text transform="rotate(90)" x="8.7" dy=".35em">ShapeRenderer</text></g>

<g id="n-DataEvent" class="leaf" transform="translate(1315.8,373)"><circle r="4.8"/><text transform="rotate(90)" x="8.7" dy=".35em">DataEvent</text></g>
<g id="n-SelectionEvent" class="leaf" transform="translate(1325.3,373)"><circle r="4.8"/><text transform="rotate(90)" x="8.7" dy=".35em">SelectionEvent</text></g>
<g id="n-TooltipEvent" class="leaf" transform="translate(1334.8,373)"><circle r="4.8"/><text transform="rotate(90)" x="8.7" dy=".35em">TooltipEvent</text></g>
<g id="n-VisualizationEvent" class="leaf" transform="translate(1344.3,373)"><circle r="4.8"/><text transform="rotate(90)" x="8.7" dy=".35em">VisualizationEvent</text></g>
<g id="n-Legend" class="leaf" transform="translate(1357.8,373)"><circle r="4.8"/><text transform="rotate(90)" x="8.7" dy=".35em">Legend</text></g>
<g id="n-LegendItem" class="leaf" transform="translate(1367.3,373)"><circle r="4.8"/><text transform="rotate(90)" x="8.7" dy=".35em">LegendItem</text></g>
<g id="n-LegendRange" class="leaf" transform="translate(1376.8,373)"><circle r="4.8"/><text transform="rotate(90)" x="8.7" dy=".35em">LegendRange</text></g>

<g id="n-IOperator" class="leaf" transform="translate(1392.7,373)"><circle r="4.8"/><text transform="rotate(90)" x="8.7" dy=".35em">IOperator</text></g>
<g id="n-Operator" class="leaf" transform="translate(1402.3,373)"><circle r="4.8"/><text transform="rotate(90)" x="8.7" dy=".35em">Operator</text></g>
<g id="n-OperatorList" class="leaf" transform="translate(1411.9,373)"><circle r="4.8"/><text transform="rotate(90)" x="8.7" dy=".35em">OperatorList</text></g>
<g id="n-OperatorSequence" class="leaf" transform="translate(1421.5,373)"><circle r="4.8"/><text transform="rotate(90)" x="8.7" dy=".35em">OperatorSequence</text></g>
<g id="n-OperatorSwitch" class="leaf" transform="translate(1431.1,373)"><circle r="4.8"/><text transform="rotate(90)" x="8.7" dy=".35em">OperatorSwitch</text></g>
<g id="n-SortOperator" class="leaf" transform="translate(1440.7,373)"><circle r="4.8"/><text transform="rotate(90)" x="8.7" dy=".35em">SortOperator</text></g>
<g id="n-distortion" class="inner" transform="translate(1449,373)"><circle r="4.8"/><text transform="rotate(90)" x="-7.5" dy=".35em">distortion</text></g>
<g id="n-encoder" class="inner" transform="translate(1491.3,373)"><circle r="4.8"/><text transform="rotate(90)" x="-7.5" dy=".35em">encoder</text></g>
<g id="n-filter" class="inner" transform="translate(1533,373)"><circle r="4.8"/><text transform="rotate(90)" x="-7.5" dy=".35em">filter</text></g>
<g id="n-label" class="inner" transform="translate(1566.3,373)"><circle r="4.8"/><text transform="rotate(90)" x="-7.5" dy=".35em">label</text></g>
<g id="n-layout" class="inner" transform="translate(1655.3,373)"><circle r="4.8"/><text transform="rotate(90)" x="-7.5" dy=".35em">layout</text></g>

<g id="n-BifocalDistortion" class="leaf" transform="translate(1439.5,487)"><circle r="4.8"/><text transform="rotate(90)" x="8.7" dy=".35em">BifocalDistortion</text></g>
<g id="n-Distortion" class="leaf" transform="translate(1449,487)"><circle r="4.8"/><text transform="rotate(90)" x="8.7" dy=".35em">Distortion</text></g>
<g id="n-FisheyeDistortion" class="leaf" transform="translate(1458.5,487)"><circle r="4.8"/><text transform="rotate(90)" x="8.7" dy=".35em">FisheyeDistortion</text></g>
<g id="n-ColorEncoder" class="leaf" transform="translate(1472.3,487)"><circle r="4.8"/><text transform="rotate(90)" x="8.7" dy=".35em">ColorEncoder</text></g>
<g id="n-Encoder" class="leaf" transform="translate(1481.8,487)"><circle r="4.8"/><text transform="rotate(90)" x="8.7" dy=".35em">Encoder</text></g>
<g id="n-PropertyEncoder" class="leaf" transform="translate(1491.3,487)"><circle r="4.8"/><text transform="rotate(90)" x="8.7" dy=".35em">PropertyEncoder</text></g>
<g id="n-ShapeEncoder" class="leaf" transform="translate(1500.8,487)"><circle r="4.8"/><text transform="rotate(90)" x="8.7" dy=".35em">ShapeEncoder</text></g>
<g id="n-SizeEncoder" class="leaf" transform="translate(1510.3,487)"><circle r="4.8"/><text transform="rotate(90)" x="8.7" dy=".35em">SizeEncoder</text></g>
<g id="n-FisheyeTreeFilter" class="leaf" transform="translate(1523.5,487)"><circle r="4.8"/><text transform="rotate(90)" x="8.7" dy=".35em">FisheyeTreeFilter</text></g>
<g id="n-GraphDistanceFilter" class="leaf" transform="translate(1533,487)"><circle r="4.8"/><text transform="rotate(90)" x="8.7" dy=".35em">GraphDistanceFilter</text></g>
<g id="n-VisibilityFilter" class="leaf" transform="translate(1542.5,487)"><circle r="4.8"/><text transform="rotate(90)" x="8.7" dy=".35em">VisibilityFilter</text></g>
<g id="n-Labeler" class="leaf" transform="translate(1556.8,487)"><circle r="4.8"/><text transform="rotate(90)" x="8.7" dy=".35em">Labeler</text></g>
<g id="n-RadialLabeler" class="leaf" transform="translate(1566.3,487)"><circle r="4.8"/><text transform="rotate(90)" x="8.7" dy=".35em">RadialLabeler</text></g>
<g id="n-StackedAreaLabeler" class="leaf" transform="translate(1575.8,487)"><circle r="4.8"/><text transform="rotate(90)" x="8.7" dy=".35em">StackedAreaLabeler</text></g>
<g id="n-AxisLayout" class="leaf" transform="translate(1588.8,487)"><circle r="4.8"/><text transform="rotate(90)" x="8.7" dy=".35em">AxisLayout</text></g>
<g id="n-BundledEdgeRouter" class="leaf" transform="translate(1598.3,487)"><circle r="4.8"/><text transform="rotate(90)" x="8.7" dy=".35em">BundledEdgeRouter</text></g>
<g id="n-CircleLayout" class="leaf" transform="translate(1607.8,487)"><circle r="4.8"/><text transform="rotate(90)" x="8.7" dy=".35em">CircleLayout</text></g>
<g id="n-CirclePackingLayout" class="leaf" transform="translate(1617.3,487)"><circle r="4.8"/><text transform="rotate(90)" x="8.7" dy=".35em">CirclePackingLayout</text></g>
<g id="n-DendrogramLayout" class="leaf" transform="translate(1626.8,487)"><circle r="4.8"/><text transform="rotate(90)" x="8.7" dy=".35em">DendrogramLayout</text></g>
<g id="n-ForceDirectedLayout" class="leaf" transform="translate(1636.3,487)"><circle r="4.8"/><text transform="rotate(90)" x="8.7" dy=".35em">ForceDirectedLayout</text></g>
<g id="n-IcicleTreeLayout" class="leaf" transform="translate(1645.8,487)"><circle r="4.8"/><text transform="rotate(90)" x="8.7" dy=".35em">IcicleTreeLayout</text></g>
<g id="n-IndentedTreeLayout" class="leaf" transform="translate(1655.3,487)"><circle r="4.8"/><text transform="rotate(90)" x="8.7" dy=".35em">IndentedTreeLayout</text></g>
<g id="n-Layout" class="leaf" transform="translate(1664.8,487)"><circle r="4.8"/><text transform="rotate(90)" x="8.7" dy=".35em">Layout</text></g>
<g id="n-NodeLinkTreeLayout" class="leaf" transform="translate(1674.3,487)"><circle r="4.8"/><text transform="rotate(90)" x="8.7" dy=".35em">NodeLinkTreeLayout</text></g>
<g id="n-PieLayout" class="leaf" transform="translate(1683.8,487)"><circle r="4.8"/><text transform="rotate(90)" x="8.7" dy=".35em">PieLayout</text></g>
<g id="n-RadialTreeLayout" class="leaf" transform="translate(1693.3,487)"><circle r="4.8"/><text transform="rotate(90)" x="8.7" dy=".35em">RadialTreeLayout</text></g>
<g id="n-RandomLayout" class="leaf" transform="translate(1702.8,487)"><circle r="4.8"/><text transform="rotate(90)" x="8.7" dy=".35em">RandomLayout</text></g>
<g id="n-StackedAreaLayout" class="leaf" transform="translate(1712.3,487)"><circle r="4.8"/><text transform="rotate(90)" x="8.7" dy=".35em">StackedAreaLayout</text></g>
<g id="n-TreeMapLayout" class="leaf" transform="translate(1721.8,487)"><circle r="4.8"/><text transform="rotate(90)" x="8.7" dy=".35em">TreeMapLayout</text></g>
</g>
</svg>
